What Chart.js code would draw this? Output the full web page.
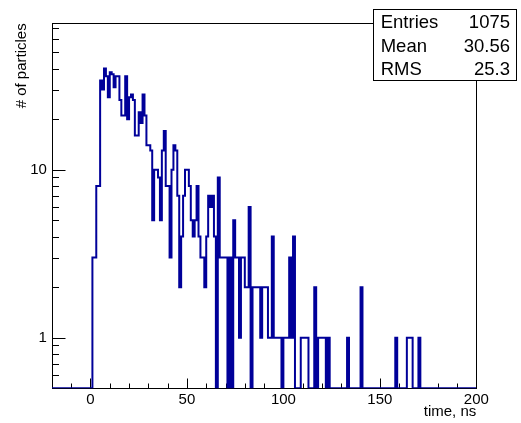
<!DOCTYPE html>
<html><head><meta charset="utf-8">
<script src="https://cdn.jsdelivr.net/npm/chart.js@4/dist/chart.umd.min.js"></script>
<style>html,body{margin:0;padding:0;background:#fff;overflow:hidden}#wrap{width:521px;height:423px;position:relative}</style>
</head><body><div id="wrap"><canvas id="c" width="521" height="423"></canvas></div>
<script>
// ---- data ----
const X_MIN = -20, X_MAX = 200, BIN_W = 1;
const Y_MIN = 0.5, Y_MAX = 74.4;
// bin contents, one per 1 ns bin from -20 ns to 200 ns
const countsBelowZero = [0,0,0,0,0,0,0,0,0,0, 0,0,0,0,0,0,0,0,0,0];
const counts0to99 = [
  0,0,3,3,8,8,34,30,40,36,
  27,38,37,31,36,36,26,21,21,36,
  20,27,28,26,16,16,22,19,28,21,
  14,14,13,5,10,10,9,5,13,17,
  8,8,3,10,14,13,7,2,4,7,
  10,10,8,5,4,5,8,4,3,3,
  2,4,7,6,7,4,0,9,3,3,
  3,3,0,3,0,5,3,3,1,3,
  3,2,2,6,0,2,2,2,2,1,
  2,2,2,1,1,4,1,1,1,1
];
const counts100to199 = [
  0,1,1,1,3,1,4,0,0,0,
  1,1,1,1,0,0,0,2,0,1,
  1,1,1,0,1,0,0,0,0,0,
  0,0,0,0,1,0,0,0,0,0,
  0,2,0,0,0,0,0,0,0,0,
  0,0,0,0,0,0,0,0,0,1,
  0,0,0,0,0,1,1,1,0,0,
  0,1,0,0,0,0,0,0,0,0,
  0,0,0,0,0,0,0,0,0,0,
  0,0,0,0,0,0,0,0,0,0
];
const counts = countsBelowZero.concat(counts0to99, counts100to199);
const xMajorTicks = [0, 50, 100, 150, 200];
const xMinorTicks = [-10,10,20,30,40,60,70,80,90,110,120,130,140,160,170,180,190];
const yMajorTicks = [1, 10];
const yMinorTicks = [0.6,0.7,0.8,0.9,2,3,4,5,6,7,8,9,20,30,40,50,60,70];
const statLabels = ['Entries', 'Mean', 'RMS'];
const statValues = ['1075', '30.56', '25.3'];
const xTitle = 'time, ns';
const yTitle = '# of particles';

// ---- build histogram path points (stepped) ----
const binLowEdges = counts.map((_, i) => X_MIN + i * BIN_W);
const pts = counts.map((c, i) => ({ x: binLowEdges[i], y: c > 0 ? c : Y_MIN }));
pts.push({ x: X_MAX, y: pts[pts.length - 1].y });

const FONT = "'Liberation Sans', Arial, Helvetica, sans-serif";

const rootFrame = {
  id: 'rootFrame',
  beforeDatasetsDraw(chart) {
    const { ctx, chartArea: a, scales: { x, y } } = chart;
    ctx.save();
    ctx.strokeStyle = '#000';
    ctx.lineWidth = 1;
    const L = Math.round(a.left) + 0.5, R = Math.round(a.right) + 0.5;
    const T = Math.round(a.top) + 0.5, B = Math.round(a.bottom) + 0.5;
    ctx.strokeRect(L, T, R - L, B - T);
    ctx.beginPath();
    xMajorTicks.forEach(v => { const p = Math.round(x.getPixelForValue(v)) + 0.5; ctx.moveTo(p, B); ctx.lineTo(p, B - 10); });
    xMinorTicks.forEach(v => { const p = Math.round(x.getPixelForValue(v)) + 0.5; ctx.moveTo(p, B); ctx.lineTo(p, B - 5); });
    yMajorTicks.forEach(v => { const p = Math.round(y.getPixelForValue(v)) + 0.5; ctx.moveTo(L, p); ctx.lineTo(L + 13, p); });
    yMinorTicks.forEach(v => { const p = Math.round(y.getPixelForValue(v)) + 0.5; ctx.moveTo(L, p); ctx.lineTo(L + 6.5, p); });
    ctx.stroke();
    ctx.restore();
  },
  afterDraw(chart) {
    const { ctx } = chart;
    ctx.save();
    const bx = 373.5, by = 9.5, bw = 143, bh = 71;
    ctx.fillStyle = '#fff';
    ctx.fillRect(bx, by, bw, bh);
    ctx.strokeStyle = '#000';
    ctx.lineWidth = 1;
    ctx.strokeRect(bx, by, bw, bh);
    ctx.fillStyle = '#000';
    ctx.font = '18.5px ' + FONT;
    ctx.textBaseline = 'alphabetic';
    const rowH = bh / statLabels.length;
    statLabels.forEach((lab, i) => {
      const base = by + rowH * i + rowH / 2 + 6.7;
      ctx.textAlign = 'left';
      ctx.fillText(lab, 380.7, base);
      ctx.textAlign = 'right';
      ctx.fillText(statValues[i], 510, base);
    });
    ctx.restore();
  }
};

new Chart(document.getElementById('c'), {
  type: 'line',
  data: {
    datasets: [{
      data: pts,
      stepped: 'after',
      borderColor: '#000099',
      borderWidth: 2,
      pointRadius: 0,
      fill: false,
      tension: 0
    }]
  },
  options: {
    responsive: false,
    animation: false,
    devicePixelRatio: 1,
    layout: { padding: { left: 0, right: 44.7, top: 23.3, bottom: 0 } },
    plugins: { legend: { display: false }, tooltip: { enabled: false } },
    scales: {
      x: {
        type: 'linear', min: X_MIN, max: X_MAX, position: 'bottom',
        grid: { display: false, drawTicks: false }, border: { display: false },
        afterBuildTicks: s => { s.ticks = xMajorTicks.map(v => ({ value: v })); },
        afterFit: s => { s.height = 34.7; },
        ticks: { autoSkip: false, maxRotation: 0, padding: 3, color: '#000', font: { family: FONT, size: 15 }, callback: v => String(v) },
        title: { display: true, text: xTitle, align: 'end', color: '#000', font: { family: FONT, size: 15 }, padding: { top: 0, bottom: 2 } }
      },
      y: {
        type: 'logarithmic', min: Y_MIN, max: Y_MAX, position: 'left',
        grid: { display: false, drawTicks: false }, border: { display: false },
        afterBuildTicks: s => { s.ticks = yMajorTicks.map(v => ({ value: v })); },
        afterFit: s => { s.width = 51.9; },
        ticks: { autoSkip: false, padding: 5, color: '#000', font: { family: FONT, size: 15 }, callback: v => String(v) },
        title: { display: true, text: yTitle, align: 'end', color: '#000', font: { family: FONT, size: 15 }, padding: { top: 13, bottom: 0 } }
      }
    }
  },
  plugins: [rootFrame]
});
</script></body></html>
